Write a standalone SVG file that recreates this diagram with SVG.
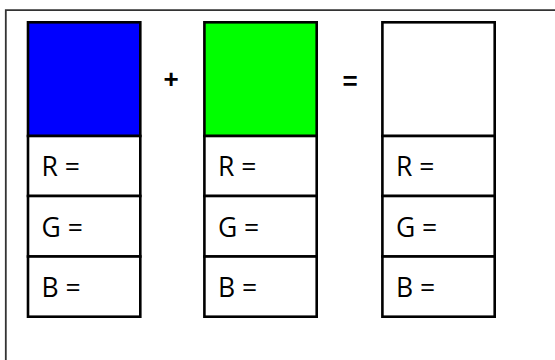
<svg xmlns="http://www.w3.org/2000/svg" width="555" height="360" viewBox="0 0 555 360">
<style>
.cell{fill:#fff;stroke:#000;stroke-width:2.6}
.sw{stroke:#000;stroke-width:2.6}
.lbl{font-family:"Open Sans","Noto Sans",sans-serif;font-size:26.5px;fill:#000}
.op{font-family:"Liberation Sans",Arial,sans-serif;font-size:26px;font-weight:bold;fill:#000;text-anchor:middle}
</style>
<rect width="555" height="360" fill="#fff"/>
<path d="M5.8 362 V10.2 H560" fill="none" stroke="#333" stroke-width="1.8"/>
<g id="box-blue">
<rect class="sw" x="28" y="22.3" width="112.3" height="113.7" fill="#0000ff"/>
<rect class="cell" x="28" y="136" width="112.3" height="60"/>
<rect class="cell" x="28" y="196" width="112.3" height="60.5"/>
<rect class="cell" x="28" y="256.5" width="112.3" height="60.2"/>
<text class="lbl" x="41.5" y="176">R =</text>
<text class="lbl" x="41.5" y="236.5">G =</text>
<text class="lbl" x="41.5" y="296.5">B =</text>
</g>
<g id="box-green">
<rect class="sw" x="204.4" y="22.3" width="112.3" height="113.7" fill="#00ff00"/>
<rect class="cell" x="204.4" y="136" width="112.3" height="60"/>
<rect class="cell" x="204.4" y="196" width="112.3" height="60.5"/>
<rect class="cell" x="204.4" y="256.5" width="112.3" height="60.2"/>
<text class="lbl" x="217.9" y="176">R =</text>
<text class="lbl" x="217.9" y="236.5">G =</text>
<text class="lbl" x="217.9" y="296.5">B =</text>
</g>
<g id="box-result">
<rect class="sw" x="382.4" y="22.3" width="112.3" height="113.7" fill="#ffffff"/>
<rect class="cell" x="382.4" y="136" width="112.3" height="60"/>
<rect class="cell" x="382.4" y="196" width="112.3" height="60.5"/>
<rect class="cell" x="382.4" y="256.5" width="112.3" height="60.2"/>
<text class="lbl" x="395.9" y="176">R =</text>
<text class="lbl" x="395.9" y="236.5">G =</text>
<text class="lbl" x="395.9" y="296.5">B =</text>
</g>
<g id="connectors">
<text class="op" x="171" y="87.5">+</text>
<text class="op" x="350" y="90">=</text>
</g>
</svg>
